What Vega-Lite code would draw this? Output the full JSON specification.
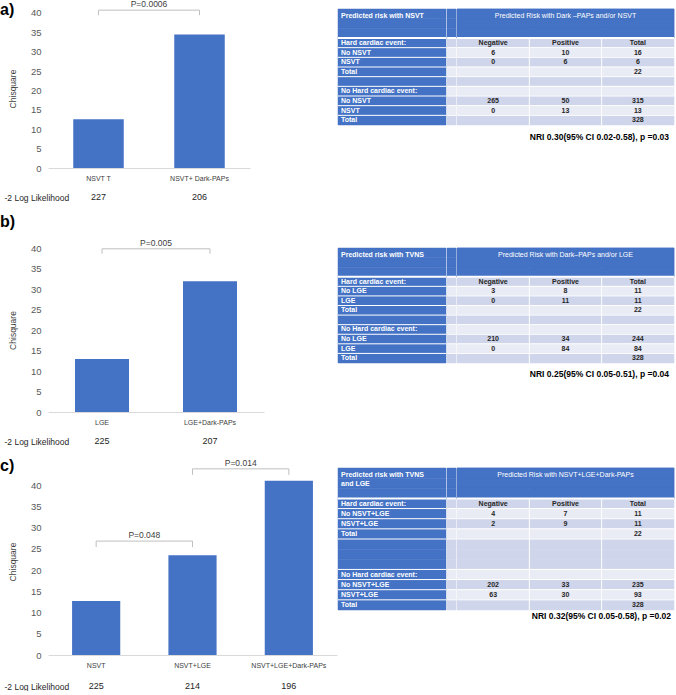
{
"$schema": "https://vega.github.io/schema/vega-lite/v6.json",
"padding": {"left": 0, "top": 0, "right": 0, "bottom": 0},
"background": "white",
"config": {
 "font": "Liberation Sans",
 "view": {"stroke": null},
 "axis": {"grid": false, "ticks": false, "labelOverlap": false},
 "axisY": {"domain": false, "labelFontSize": 9.5, "labelColor": "#595959", "labelPadding": 7, "titleFontSize": 8.5, "titleFontWeight": "normal", "titleColor": "#404040", "titlePadding": 13},
 "axisX": {"domainColor": "#D9D9D9", "domainWidth": 1, "labelFontSize": 7, "labelColor": "#404040", "labelPadding": 6, "labelAngle": 0, "titleFontSize": 8.5, "titleFontWeight": "normal", "titleColor": "#262626"},
 "title": {"font": "Liberation Sans"}
},
"datasets": {
 "a_bars": [{"model":"NSVT  T","chi":12.6,"ll":227},{"model":"NSVT+ Dark-PAPs","chi":34.4,"ll":206}],
 "a_brk": [{"bracket":"a1","model":"NSVT  T","level":40.7},{"bracket":"a1","model":"NSVT+ Dark-PAPs","level":40.7}],
 "a_p": [{"from":"NSVT  T","level":40.7,"p":"P=0.0006"}],
 "b_bars": [{"model":"LGE","chi":12.9,"ll":225},{"model":"LGE+Dark-PAPs","chi":31.9,"ll":207}],
 "b_brk": [{"bracket":"b1","model":"LGE","level":39.8},{"bracket":"b1","model":"LGE+Dark-PAPs","level":39.8}],
 "b_p": [{"from":"LGE","level":39.8,"p":"P=0.005"}],
 "c_bars": [{"model":"NSVT","chi":12.7,"ll":225},{"model":"NSVT+LGE","chi":23.5,"ll":214},{"model":"NSVT+LGE+Dark-PAPs","chi":41.0,"ll":196}],
 "c_brk": [{"bracket":"c1","model":"NSVT","level":26.8},{"bracket":"c1","model":"NSVT+LGE","level":26.8},{"bracket":"c2","model":"NSVT+LGE","level":43.8},{"bracket":"c2","model":"NSVT+LGE+Dark-PAPs","level":43.8}],
 "c_p": [{"from":"NSVT","level":26.8,"p":"P=0.048"},{"from":"NSVT+LGE","level":43.8,"p":"P=0.014"}],
 "ta": [
  {"row":"h1","label":"Predicted risk with  NSVT","title":"Predicted Risk  with Dark \u2013PAPs  and/or NSVT"},
  {"row":"h2"},{"row":"h3"},
  {"row":"r1","label":"Hard cardiac event:","Negative":"Negative","Positive":"Positive","Total":"Total"},
  {"row":"r2","label":"No NSVT","Negative":6,"Positive":10,"Total":16},
  {"row":"r3","label":"NSVT","Negative":0,"Positive":6,"Total":6},
  {"row":"r4","label":"Total","Total":22},
  {"row":"r5","label":""},
  {"row":"r6","label":"No Hard cardiac event:"},
  {"row":"r7","label":"No NSVT","Negative":265,"Positive":50,"Total":315},
  {"row":"r8","label":"NSVT","Negative":0,"Positive":13,"Total":13},
  {"row":"r9","label":"Total","Total":328}
 ],
 "tb": [
  {"row":"h1","label":"Predicted risk with  TVNS","title":"Predicted Risk  with Dark\u2013PAPs  and/or LGE"},
  {"row":"h2"},{"row":"h3"},
  {"row":"r1","label":"Hard cardiac event:","Negative":"Negative","Positive":"Positive","Total":"Total"},
  {"row":"r2","label":"No LGE","Negative":3,"Positive":8,"Total":11},
  {"row":"r3","label":"LGE","Negative":0,"Positive":11,"Total":11},
  {"row":"r4","label":"Total","Total":22},
  {"row":"r5","label":""},
  {"row":"r6","label":"No Hard cardiac event:"},
  {"row":"r7","label":"No LGE","Negative":210,"Positive":34,"Total":244},
  {"row":"r8","label":"LGE","Negative":0,"Positive":84,"Total":84},
  {"row":"r9","label":"Total","Total":328}
 ],
 "tc": [
  {"row":"h1","label":"Predicted risk with  TVNS\nand LGE","title":"Predicted Risk  with NSVT+LGE+Dark-PAPs"},
  {"row":"h2"},{"row":"h3"},
  {"row":"r1","label":"Hard cardiac event:","Negative":"Negative","Positive":"Positive","Total":"Total"},
  {"row":"r2","label":"No NSVT+LGE","Negative":4,"Positive":7,"Total":11},
  {"row":"r3","label":"NSVT+LGE","Negative":2,"Positive":9,"Total":11},
  {"row":"r4","label":"Total","Total":22},
  {"row":"r5","label":""},{"row":"r5b"},{"row":"r5c"},
  {"row":"r6","label":"No Hard cardiac event:"},
  {"row":"r7","label":"No NSVT+LGE","Negative":202,"Positive":33,"Total":235},
  {"row":"r8","label":"NSVT+LGE","Negative":63,"Positive":30,"Total":93},
  {"row":"r9","label":"Total","Total":328}
 ]
},
"spacing": 11,
"bounds": "full",
"vconcat": [
 {"hconcat": [
  {"width": 202, "height": 159,
   "title": {"text":"a)","anchor":"start","frame":"bounds","fontSize":16,"fontWeight":"bold","color":"#000000","offset":-18,"dx":-4},
   "layer": [
    {"data":{"name":"a_bars"},"mark":{"type":"bar","color":"#4472C4"},
     "encoding":{
      "x":{"field":"model","type":"nominal","scale":{"domain":["NSVT  T","NSVT+ Dark-PAPs"],"paddingInner":0.5,"paddingOuter":0.25},
           "axis":{"title":"-2 Log Likelihood","titleX":-44,"titleY":29,"titleAlign":"left","titleBaseline":"middle"}},
      "y":{"field":"chi","type":"quantitative","scale":{"domain":[0,41],"nice":false},
           "axis":{"title":"Chisquare","values":[0,5,10,15,20,25,30,35,40],"labelOverlap":false,"tickCount":9}}}},
    {"data":{"name":"a_bars"},"mark":{"type":"text","dy":29,"fontSize":9,"color":"#262626"},
     "encoding":{"x":{"field":"model","type":"nominal"},"y":{"datum":0,"type":"quantitative"},"text":{"field":"ll","type":"nominal"}}},
    {"data":{"name":"a_brk"},"mark":{"type":"line","color":"#BFBFBF","strokeWidth":1},
     "encoding":{"x":{"field":"model","type":"nominal","bandPosition":0.5},"y":{"field":"level","type":"quantitative"},"detail":{"field":"bracket"}}},
    {"data":{"name":"a_brk"},"mark":{"type":"rule","color":"#BFBFBF","y2Offset":5},
     "encoding":{"x":{"field":"model","type":"nominal","bandPosition":0.5},"y":{"field":"level","type":"quantitative"},"y2":{"field":"level"}}},
    {"data":{"name":"a_p"},"mark":{"type":"text","baseline":"bottom","dy":-1,"fontSize":8.5,"color":"#404040"},
     "encoding":{"x":{"field":"from","type":"nominal","bandPosition":1.5},"y":{"field":"level","type":"quantitative"},"text":{"field":"p"}}}
   ]},
  {"width": 86, "height": 10, "data": {"values": [{"s": 1}]}, "mark": {"type": "point", "opacity": 0}, "encoding": {}},
  {"width": 108, "height": 116, "data": {"name": "ta"},
   "layer": [
    {"mark":{"type":"rect","color":"#4472C4","stroke":"#4472C4","strokeWidth":0.5},"encoding":{"y":{"field":"row","type":"nominal","scale":{"domain":["h1","h2","h3","r1","r2","r3","r4","r5","r6","r7","r8","r9"],"paddingInner":0,"paddingOuter":0},"axis":null}}},
    {"transform":[{"filter":"isValid(datum.label) && datum.row != 'h1'"}],"mark":{"type":"rule","color":"#FFFFFF"},"encoding":{"y":{"field":"row","type":"nominal","bandPosition":0},"strokeWidth":{"condition":{"test":"datum.row == 'r1'","value":2},"value":1}}},
    {"transform":[{"filter":"isValid(datum.label) && datum.row != 'h1'"}],"mark":{"type":"text","align":"left","dx":3,"color":"#FFFFFF","fontWeight":"bold","fontSize":7},
     "encoding":{"x":{"datum":0,"type":"quantitative","scale":{"domain":[0,1]},"axis":null},"y":{"field":"row","type":"nominal"},"text":{"field":"label"}}},
    {"transform":[{"filter":"datum.row == 'h1'"}],"mark":{"type":"text","align":"left","baseline":"top","dx":3,"dy":3,"color":"#FFFFFF","fontWeight":"bold","fontSize":7,"lineBreak":"\n"},
     "encoding":{"x":{"datum":0,"type":"quantitative"},"y":{"field":"row","type":"nominal","bandPosition":0},"text":{"field":"label"}}}
   ]},
  {"width": 9, "height": 116, "data": {"name": "ta"},
   "layer": [
    {"mark":{"type":"rect","strokeWidth":0.5},"encoding":{"y":{"field":"row","type":"nominal","scale":{"domain":["h1","h2","h3","r1","r2","r3","r4","r5","r6","r7","r8","r9"],"paddingInner":0,"paddingOuter":0},"axis":null},
      "fill":{"field":"row","type":"nominal","scale":{"domain":["h1","h2","h3","r1","r2","r3","r4","r5","r5b","r5c","r6","r7","r8","r9"],"range":["#4472C4","#4472C4","#4472C4","#CFD5EA","#E9EBF5","#CFD5EA","#E9EBF5","#CFD5EA","#CFD5EA","#CFD5EA","#E9EBF5","#CFD5EA","#E9EBF5","#CFD5EA"]},"legend":null},
      "stroke":{"field":"row","type":"nominal","scale":{"domain":["h1","h2","h3","r1","r2","r3","r4","r5","r5b","r5c","r6","r7","r8","r9"],"range":["#4472C4","#4472C4","#4472C4","#CFD5EA","#E9EBF5","#CFD5EA","#E9EBF5","#CFD5EA","#CFD5EA","#CFD5EA","#E9EBF5","#CFD5EA","#E9EBF5","#CFD5EA"]},"legend":null}}},
    {"transform":[{"filter":"isValid(datum.label) && datum.row != 'h1'"}],"mark":{"type":"rule","color":"#FFFFFF"},"encoding":{"y":{"field":"row","type":"nominal","bandPosition":0},"strokeWidth":{"condition":{"test":"datum.row == 'r1'","value":2},"value":1}}}
   ]},
  {"width": 217, "height": 116, "data": {"name": "ta"},
   "title": {"text":"NRI 0.30(95% CI 0.02-0.58), p =0.03","orient":"bottom","anchor":"end","fontSize":8.5,"fontWeight":"bold","color":"#000000","offset":7,"dx":-6},
   "layer": [
    {"transform":[{"fold":["Negative","Positive","Total"],"as":["col","val"]}],"mark":{"type":"rect","strokeWidth":0.5},
     "encoding":{"x":{"field":"col","type":"nominal","scale":{"domain":["Negative","Positive","Total"],"paddingInner":0,"paddingOuter":0},"axis":null},
      "y":{"field":"row","type":"nominal","scale":{"domain":["h1","h2","h3","r1","r2","r3","r4","r5","r6","r7","r8","r9"],"paddingInner":0,"paddingOuter":0},"axis":null},
      "fill":{"field":"row","type":"nominal","scale":{"domain":["h1","h2","h3","r1","r2","r3","r4","r5","r5b","r5c","r6","r7","r8","r9"],"range":["#4472C4","#4472C4","#4472C4","#CFD5EA","#E9EBF5","#CFD5EA","#E9EBF5","#CFD5EA","#CFD5EA","#CFD5EA","#E9EBF5","#CFD5EA","#E9EBF5","#CFD5EA"]},"legend":null},
      "stroke":{"field":"row","type":"nominal","scale":{"domain":["h1","h2","h3","r1","r2","r3","r4","r5","r5b","r5c","r6","r7","r8","r9"],"range":["#4472C4","#4472C4","#4472C4","#CFD5EA","#E9EBF5","#CFD5EA","#E9EBF5","#CFD5EA","#CFD5EA","#CFD5EA","#E9EBF5","#CFD5EA","#E9EBF5","#CFD5EA"]},"legend":null}}},
    {"transform":[{"filter":"datum.row == 'r1'"},{"fold":["Positive","Total"],"as":["col","val"]}],"mark":{"type":"rule","color":"#FFFFFF"},
     "encoding":{"x":{"field":"col","type":"nominal","bandPosition":0}}},
    {"transform":[{"filter":"indexof(['h1','h2','h3'], datum.row) >= 0"}],"mark":{"type":"rect","color":"#4472C4","stroke":"#4472C4","strokeWidth":0.5},
     "encoding":{"y":{"field":"row","type":"nominal"}}},
    {"transform":[{"filter":"isValid(datum.label) && datum.row != 'h1'"}],"mark":{"type":"rule","color":"#FFFFFF"},"encoding":{"y":{"field":"row","type":"nominal","bandPosition":0},"strokeWidth":{"condition":{"test":"datum.row == 'r1'","value":2},"value":1}}},
    {"transform":[{"fold":["Negative","Positive","Total"],"as":["col","val"]},{"filter":"isValid(datum.val)"}],"mark":{"type":"text","fontWeight":"bold","fontSize":7,"color":"#262626"},
     "encoding":{"x":{"field":"col","type":"nominal"},"y":{"field":"row","type":"nominal"},"text":{"field":"val","type":"nominal"}}},
    {"transform":[{"filter":"datum.row == 'h1'"}],"mark":{"type":"text","color":"#FFFFFF","fontSize":7,"baseline":"top","dy":3},
     "encoding":{"y":{"field":"row","type":"nominal","bandPosition":0},"text":{"field":"title"}}}
   ]}
 ], "spacing": 1, "bounds": "flush"},

 {"hconcat": [
  {"width": 216, "height": 164,
   "title": {"text":"b)","anchor":"start","frame":"bounds","fontSize":16,"fontWeight":"bold","color":"#000000","offset":9,"dx":-4},
   "layer": [
    {"data":{"name":"b_bars"},"mark":{"type":"bar","color":"#4472C4"},
     "encoding":{
      "x":{"field":"model","type":"nominal","scale":{"domain":["LGE","LGE+Dark-PAPs"],"paddingInner":0.5,"paddingOuter":0.25},
           "axis":{"title":"-2 Log Likelihood","titleX":-44,"titleY":29,"titleAlign":"left","titleBaseline":"middle"}},
      "y":{"field":"chi","type":"quantitative","scale":{"domain":[0,40],"nice":false},
           "axis":{"title":"Chisquare","values":[0,5,10,15,20,25,30,35,40],"labelOverlap":false,"tickCount":9}}}},
    {"data":{"name":"b_bars"},"mark":{"type":"text","dy":29,"fontSize":9,"color":"#262626"},
     "encoding":{"x":{"field":"model","type":"nominal"},"y":{"datum":0,"type":"quantitative"},"text":{"field":"ll","type":"nominal"}}},
    {"data":{"name":"b_brk"},"mark":{"type":"line","color":"#BFBFBF","strokeWidth":1},
     "encoding":{"x":{"field":"model","type":"nominal","bandPosition":0.5},"y":{"field":"level","type":"quantitative"},"detail":{"field":"bracket"}}},
    {"data":{"name":"b_brk"},"mark":{"type":"rule","color":"#BFBFBF","y2Offset":5},
     "encoding":{"x":{"field":"model","type":"nominal","bandPosition":0.5},"y":{"field":"level","type":"quantitative"},"y2":{"field":"level"}}},
    {"data":{"name":"b_p"},"mark":{"type":"text","baseline":"bottom","dy":-1,"fontSize":8.5,"color":"#404040"},
     "encoding":{"x":{"field":"from","type":"nominal","bandPosition":1.5},"y":{"field":"level","type":"quantitative"},"text":{"field":"p"}}}
   ]},
  {"width": 72, "height": 10, "data": {"values": [{"s": 1}]}, "mark": {"type": "point", "opacity": 0}, "encoding": {}},
  {"width": 108, "height": 115, "data": {"name": "tb"},
   "layer": [
    {"mark":{"type":"rect","color":"#4472C4","stroke":"#4472C4","strokeWidth":0.5},"encoding":{"y":{"field":"row","type":"nominal","scale":{"domain":["h1","h2","h3","r1","r2","r3","r4","r5","r6","r7","r8","r9"],"paddingInner":0,"paddingOuter":0},"axis":null}}},
    {"transform":[{"filter":"isValid(datum.label) && datum.row != 'h1'"}],"mark":{"type":"rule","color":"#FFFFFF"},"encoding":{"y":{"field":"row","type":"nominal","bandPosition":0},"strokeWidth":{"condition":{"test":"datum.row == 'r1'","value":2},"value":1}}},
    {"transform":[{"filter":"isValid(datum.label) && datum.row != 'h1'"}],"mark":{"type":"text","align":"left","dx":3,"color":"#FFFFFF","fontWeight":"bold","fontSize":7},
     "encoding":{"x":{"datum":0,"type":"quantitative","scale":{"domain":[0,1]},"axis":null},"y":{"field":"row","type":"nominal"},"text":{"field":"label"}}},
    {"transform":[{"filter":"datum.row == 'h1'"}],"mark":{"type":"text","align":"left","baseline":"top","dx":3,"dy":3,"color":"#FFFFFF","fontWeight":"bold","fontSize":7,"lineBreak":"\n"},
     "encoding":{"x":{"datum":0,"type":"quantitative"},"y":{"field":"row","type":"nominal","bandPosition":0},"text":{"field":"label"}}}
   ]},
  {"width": 9, "height": 115, "data": {"name": "tb"},
   "layer": [
    {"mark":{"type":"rect","strokeWidth":0.5},"encoding":{"y":{"field":"row","type":"nominal","scale":{"domain":["h1","h2","h3","r1","r2","r3","r4","r5","r6","r7","r8","r9"],"paddingInner":0,"paddingOuter":0},"axis":null},
      "fill":{"field":"row","type":"nominal","scale":{"domain":["h1","h2","h3","r1","r2","r3","r4","r5","r5b","r5c","r6","r7","r8","r9"],"range":["#4472C4","#4472C4","#4472C4","#CFD5EA","#E9EBF5","#CFD5EA","#E9EBF5","#CFD5EA","#CFD5EA","#CFD5EA","#E9EBF5","#CFD5EA","#E9EBF5","#CFD5EA"]},"legend":null},
      "stroke":{"field":"row","type":"nominal","scale":{"domain":["h1","h2","h3","r1","r2","r3","r4","r5","r5b","r5c","r6","r7","r8","r9"],"range":["#4472C4","#4472C4","#4472C4","#CFD5EA","#E9EBF5","#CFD5EA","#E9EBF5","#CFD5EA","#CFD5EA","#CFD5EA","#E9EBF5","#CFD5EA","#E9EBF5","#CFD5EA"]},"legend":null}}},
    {"transform":[{"filter":"isValid(datum.label) && datum.row != 'h1'"}],"mark":{"type":"rule","color":"#FFFFFF"},"encoding":{"y":{"field":"row","type":"nominal","bandPosition":0},"strokeWidth":{"condition":{"test":"datum.row == 'r1'","value":2},"value":1}}}
   ]},
  {"width": 217, "height": 115, "data": {"name": "tb"},
   "title": {"text":"NRI 0.25(95% CI 0.05-0.51), p =0.04","orient":"bottom","anchor":"end","fontSize":8.5,"fontWeight":"bold","color":"#000000","offset":6,"dx":-6},
   "layer": [
    {"transform":[{"fold":["Negative","Positive","Total"],"as":["col","val"]}],"mark":{"type":"rect","strokeWidth":0.5},
     "encoding":{"x":{"field":"col","type":"nominal","scale":{"domain":["Negative","Positive","Total"],"paddingInner":0,"paddingOuter":0},"axis":null},
      "y":{"field":"row","type":"nominal","scale":{"domain":["h1","h2","h3","r1","r2","r3","r4","r5","r6","r7","r8","r9"],"paddingInner":0,"paddingOuter":0},"axis":null},
      "fill":{"field":"row","type":"nominal","scale":{"domain":["h1","h2","h3","r1","r2","r3","r4","r5","r5b","r5c","r6","r7","r8","r9"],"range":["#4472C4","#4472C4","#4472C4","#CFD5EA","#E9EBF5","#CFD5EA","#E9EBF5","#CFD5EA","#CFD5EA","#CFD5EA","#E9EBF5","#CFD5EA","#E9EBF5","#CFD5EA"]},"legend":null},
      "stroke":{"field":"row","type":"nominal","scale":{"domain":["h1","h2","h3","r1","r2","r3","r4","r5","r5b","r5c","r6","r7","r8","r9"],"range":["#4472C4","#4472C4","#4472C4","#CFD5EA","#E9EBF5","#CFD5EA","#E9EBF5","#CFD5EA","#CFD5EA","#CFD5EA","#E9EBF5","#CFD5EA","#E9EBF5","#CFD5EA"]},"legend":null}}},
    {"transform":[{"filter":"datum.row == 'r1'"},{"fold":["Positive","Total"],"as":["col","val"]}],"mark":{"type":"rule","color":"#FFFFFF"},
     "encoding":{"x":{"field":"col","type":"nominal","bandPosition":0}}},
    {"transform":[{"filter":"indexof(['h1','h2','h3'], datum.row) >= 0"}],"mark":{"type":"rect","color":"#4472C4","stroke":"#4472C4","strokeWidth":0.5},
     "encoding":{"y":{"field":"row","type":"nominal"}}},
    {"transform":[{"filter":"isValid(datum.label) && datum.row != 'h1'"}],"mark":{"type":"rule","color":"#FFFFFF"},"encoding":{"y":{"field":"row","type":"nominal","bandPosition":0},"strokeWidth":{"condition":{"test":"datum.row == 'r1'","value":2},"value":1}}},
    {"transform":[{"fold":["Negative","Positive","Total"],"as":["col","val"]},{"filter":"isValid(datum.val)"}],"mark":{"type":"text","fontWeight":"bold","fontSize":7,"color":"#262626"},
     "encoding":{"x":{"field":"col","type":"nominal"},"y":{"field":"row","type":"nominal"},"text":{"field":"val","type":"nominal"}}},
    {"transform":[{"filter":"datum.row == 'h1'"}],"mark":{"type":"text","color":"#FFFFFF","fontSize":7,"baseline":"top","dy":3},
     "encoding":{"y":{"field":"row","type":"nominal","bandPosition":0},"text":{"field":"title"}}}
   ]}
 ], "spacing": 1, "bounds": "flush"},

 {"hconcat": [
  {"width": 289, "height": 187,
   "title": {"text":"c)","anchor":"start","frame":"bounds","fontSize":16,"fontWeight":"bold","color":"#000000","offset":-15,"dx":-4},
   "layer": [
    {"data":{"name":"c_bars"},"mark":{"type":"bar","color":"#4472C4"},
     "encoding":{
      "x":{"field":"model","type":"nominal","scale":{"domain":["NSVT","NSVT+LGE","NSVT+LGE+Dark-PAPs"],"paddingInner":0.5,"paddingOuter":0.25},
           "axis":{"title":"-2 Log Likelihood","titleX":-44,"titleY":31,"titleAlign":"left","titleBaseline":"middle"}},
      "y":{"field":"chi","type":"quantitative","scale":{"domain":[0,44],"nice":false},
           "axis":{"title":"Chisquare","values":[0,5,10,15,20,25,30,35,40],"labelOverlap":false,"tickCount":9}}}},
    {"data":{"name":"c_bars"},"mark":{"type":"text","dy":31,"fontSize":9,"color":"#262626"},
     "encoding":{"x":{"field":"model","type":"nominal"},"y":{"datum":0,"type":"quantitative"},"text":{"field":"ll","type":"nominal"}}},
    {"data":{"name":"c_brk"},"mark":{"type":"line","color":"#BFBFBF","strokeWidth":1},
     "encoding":{"x":{"field":"model","type":"nominal","bandPosition":0.5},"y":{"field":"level","type":"quantitative"},"detail":{"field":"bracket"}}},
    {"data":{"name":"c_brk"},"mark":{"type":"rule","color":"#BFBFBF","y2Offset":6},
     "encoding":{"x":{"field":"model","type":"nominal","bandPosition":0.5},"y":{"field":"level","type":"quantitative"},"y2":{"field":"level"}}},
    {"data":{"name":"c_p"},"mark":{"type":"text","baseline":"bottom","dy":-1,"fontSize":8.5,"color":"#404040"},
     "encoding":{"x":{"field":"from","type":"nominal","bandPosition":1.5},"y":{"field":"level","type":"quantitative"},"text":{"field":"p"}}}
   ]},
  {"width": 108, "height": 142, "data": {"name": "tc"},
   "layer": [
    {"mark":{"type":"rect","color":"#4472C4","stroke":"#4472C4","strokeWidth":0.5},"encoding":{"y":{"field":"row","type":"nominal","scale":{"domain":["h1","h2","h3","r1","r2","r3","r4","r5","r5b","r5c","r6","r7","r8","r9"],"paddingInner":0,"paddingOuter":0},"axis":null}}},
    {"transform":[{"filter":"isValid(datum.label) && datum.row != 'h1'"}],"mark":{"type":"rule","color":"#FFFFFF"},"encoding":{"y":{"field":"row","type":"nominal","bandPosition":0},"strokeWidth":{"condition":{"test":"datum.row == 'r1'","value":2},"value":1}}},
    {"transform":[{"filter":"isValid(datum.label) && datum.row != 'h1'"}],"mark":{"type":"text","align":"left","dx":3,"color":"#FFFFFF","fontWeight":"bold","fontSize":7},
     "encoding":{"x":{"datum":0,"type":"quantitative","scale":{"domain":[0,1]},"axis":null},"y":{"field":"row","type":"nominal"},"text":{"field":"label"}}},
    {"transform":[{"filter":"datum.row == 'h1'"}],"mark":{"type":"text","align":"left","baseline":"top","dx":3,"dy":3,"color":"#FFFFFF","fontWeight":"bold","fontSize":7,"lineBreak":"\n"},
     "encoding":{"x":{"datum":0,"type":"quantitative"},"y":{"field":"row","type":"nominal","bandPosition":0},"text":{"field":"label"}}}
   ]},
  {"width": 9, "height": 142, "data": {"name": "tc"},
   "layer": [
    {"mark":{"type":"rect","strokeWidth":0.5},"encoding":{"y":{"field":"row","type":"nominal","scale":{"domain":["h1","h2","h3","r1","r2","r3","r4","r5","r5b","r5c","r6","r7","r8","r9"],"paddingInner":0,"paddingOuter":0},"axis":null},
      "fill":{"field":"row","type":"nominal","scale":{"domain":["h1","h2","h3","r1","r2","r3","r4","r5","r5b","r5c","r6","r7","r8","r9"],"range":["#4472C4","#4472C4","#4472C4","#CFD5EA","#E9EBF5","#CFD5EA","#E9EBF5","#CFD5EA","#CFD5EA","#CFD5EA","#E9EBF5","#CFD5EA","#E9EBF5","#CFD5EA"]},"legend":null},
      "stroke":{"field":"row","type":"nominal","scale":{"domain":["h1","h2","h3","r1","r2","r3","r4","r5","r5b","r5c","r6","r7","r8","r9"],"range":["#4472C4","#4472C4","#4472C4","#CFD5EA","#E9EBF5","#CFD5EA","#E9EBF5","#CFD5EA","#CFD5EA","#CFD5EA","#E9EBF5","#CFD5EA","#E9EBF5","#CFD5EA"]},"legend":null}}},
    {"transform":[{"filter":"isValid(datum.label) && datum.row != 'h1'"}],"mark":{"type":"rule","color":"#FFFFFF"},"encoding":{"y":{"field":"row","type":"nominal","bandPosition":0},"strokeWidth":{"condition":{"test":"datum.row == 'r1'","value":2},"value":1}}}
   ]},
  {"width": 217, "height": 142, "data": {"name": "tc"},
   "title": {"text":"NRI 0.32(95% CI 0.05-0.58), p =0.02","orient":"bottom","anchor":"end","fontSize":8.5,"fontWeight":"bold","color":"#000000","offset":1,"dx":-4},
   "layer": [
    {"transform":[{"fold":["Negative","Positive","Total"],"as":["col","val"]}],"mark":{"type":"rect","strokeWidth":0.5},
     "encoding":{"x":{"field":"col","type":"nominal","scale":{"domain":["Negative","Positive","Total"],"paddingInner":0,"paddingOuter":0},"axis":null},
      "y":{"field":"row","type":"nominal","scale":{"domain":["h1","h2","h3","r1","r2","r3","r4","r5","r5b","r5c","r6","r7","r8","r9"],"paddingInner":0,"paddingOuter":0},"axis":null},
      "fill":{"field":"row","type":"nominal","scale":{"domain":["h1","h2","h3","r1","r2","r3","r4","r5","r5b","r5c","r6","r7","r8","r9"],"range":["#4472C4","#4472C4","#4472C4","#CFD5EA","#E9EBF5","#CFD5EA","#E9EBF5","#CFD5EA","#CFD5EA","#CFD5EA","#E9EBF5","#CFD5EA","#E9EBF5","#CFD5EA"]},"legend":null},
      "stroke":{"field":"row","type":"nominal","scale":{"domain":["h1","h2","h3","r1","r2","r3","r4","r5","r5b","r5c","r6","r7","r8","r9"],"range":["#4472C4","#4472C4","#4472C4","#CFD5EA","#E9EBF5","#CFD5EA","#E9EBF5","#CFD5EA","#CFD5EA","#CFD5EA","#E9EBF5","#CFD5EA","#E9EBF5","#CFD5EA"]},"legend":null}}},
    {"transform":[{"filter":"datum.row == 'r1'"},{"fold":["Positive","Total"],"as":["col","val"]}],"mark":{"type":"rule","color":"#FFFFFF"},
     "encoding":{"x":{"field":"col","type":"nominal","bandPosition":0}}},
    {"transform":[{"filter":"indexof(['h1','h2','h3'], datum.row) >= 0"}],"mark":{"type":"rect","color":"#4472C4","stroke":"#4472C4","strokeWidth":0.5},
     "encoding":{"y":{"field":"row","type":"nominal"}}},
    {"transform":[{"filter":"isValid(datum.label) && datum.row != 'h1'"}],"mark":{"type":"rule","color":"#FFFFFF"},"encoding":{"y":{"field":"row","type":"nominal","bandPosition":0},"strokeWidth":{"condition":{"test":"datum.row == 'r1'","value":2},"value":1}}},
    {"transform":[{"fold":["Negative","Positive","Total"],"as":["col","val"]},{"filter":"isValid(datum.val)"}],"mark":{"type":"text","fontWeight":"bold","fontSize":7,"color":"#262626"},
     "encoding":{"x":{"field":"col","type":"nominal"},"y":{"field":"row","type":"nominal"},"text":{"field":"val","type":"nominal"}}},
    {"transform":[{"filter":"datum.row == 'h1'"}],"mark":{"type":"text","color":"#FFFFFF","fontSize":7,"baseline":"top","dy":3},
     "encoding":{"y":{"field":"row","type":"nominal","bandPosition":0},"text":{"field":"title"}}}
   ]}
 ], "spacing": 1, "bounds": "flush"}
]
}
